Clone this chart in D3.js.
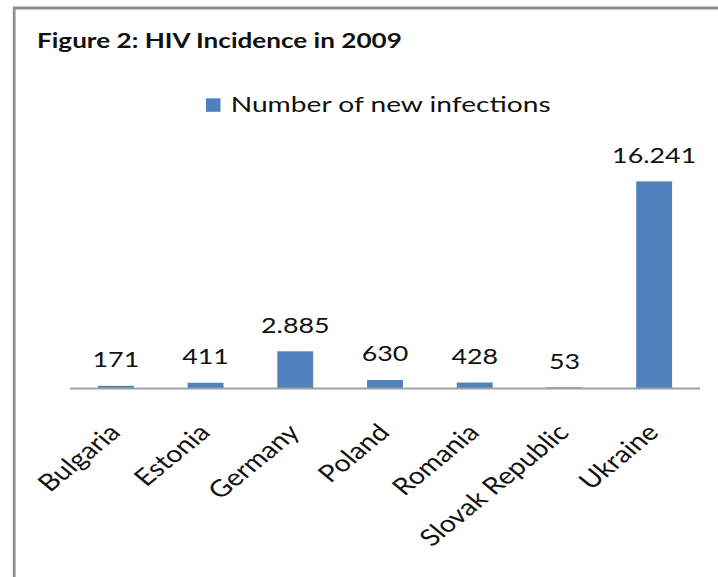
<!DOCTYPE html>
<html>
<head>
<meta charset="utf-8">
<script src="https://cdn.jsdelivr.net/npm/d3@7/dist/d3.min.js"></script>
<style>
  html, body { margin: 0; padding: 0; background: #fff; }
  svg { display: block; }
  text { font-family: Lato, "Open Sans", sans-serif; fill: #111; }
</style>
</head>
<body>
<svg id="chart" width="718" height="577"></svg>
<script>
// Figure 2: HIV incidence in 2009, new infections by country
const categories = ["Bulgaria", "Estonia", "Germany", "Poland", "Romania", "Slovak Republic", "Ukraine"];
const newInfections = [171, 411, 2885, 630, 428, 53, 16241];
const seriesName = "Number of new infections";
const titleText = "Figure 2: HIV Incidence in 2009";

const W = 718, H = 577;
const stretchX = 1.22;          // text is set slightly wide
const barColor = "#4f81bd";

const svg = d3.select("#chart");

// European number format: 16.241
const fmt = d3.formatLocale({ decimal: ",", thousands: ".", grouping: [3], currency: ["", ""] }).format(",d");

// frame around the figure (open to the right and bottom)
svg.append("path")
  .attr("d", `M14.2,${H} V8 H${W}`)
  .attr("fill", "none")
  .attr("stroke", "#8f8f8f")
  .attr("stroke-width", 2.8);

// title
svg.append("text")
  .attr("transform", `translate(37,47.7) scale(${stretchX},1)`)
  .attr("font-weight", 700)
  .attr("font-size", 21.4)
  .text(titleText);

// legend
const legend = svg.append("g");
legend.append("rect")
  .attr("x", 206).attr("y", 98.3)
  .attr("width", 14.5).attr("height", 13.5)
  .attr("fill", barColor);
legend.append("text")
  .attr("transform", `translate(230.7,112.3) scale(1.28,1)`)
  .attr("font-size", 22)
  .text(seriesName);

// scales
const x = d3.scaleBand()
  .domain(categories)
  .range([71, 699])
  .paddingInner(0.6)
  .paddingOuter(0.3);

const y = d3.scaleLinear()
  .domain([0, 18000])
  .range([388, 159]);

// bars
svg.append("g")
  .selectAll("rect")
  .data(categories)
  .join("rect")
  .attr("x", d => x(d))
  .attr("width", x.bandwidth())
  .attr("y", (d, i) => y(newInfections[i]))
  .attr("height", (d, i) => y(0) - y(newInfections[i]))
  .attr("fill", barColor);

// value labels
svg.append("g")
  .selectAll("text")
  .data(categories)
  .join("text")
  .attr("transform", (d, i) => `translate(${x(d) + x.bandwidth() / 2},${y(newInfections[i]) - 18.5}) scale(${stretchX},1)`)
  .attr("text-anchor", "middle")
  .attr("font-size", 22)
  .text((d, i) => fmt(newInfections[i]));

// category axis
const xAxis = svg.append("g")
  .attr("transform", `translate(0,${y(0)})`)
  .call(d3.axisBottom(x).tickSize(0).tickSizeOuter(0));

xAxis.select(".domain")
  .attr("d", "M70,0.5H700")
  .attr("stroke", "#a0a0a0")
  .attr("stroke-width", 2);

xAxis.selectAll(".tick text")
  .attr("x", null).attr("y", null).attr("dy", null)
  .attr("text-anchor", "end")
  .attr("font-family", "Lato, 'Open Sans', sans-serif")
  .attr("font-size", 23.5)
  .attr("fill", "#111")
  .attr("transform", `translate(6,46) scale(${stretchX},1) rotate(-45)`);
</script>
</body>
</html>
